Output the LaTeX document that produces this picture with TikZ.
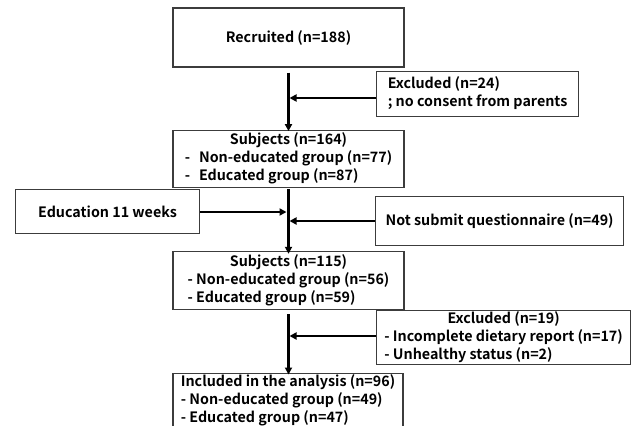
\documentclass[tikz,border=0pt]{standalone}
\usepackage{fontspec}
\setmainfont{Noto Sans CJK KR}[BoldFont={* Bold}]
\usepackage{xcolor}
\usetikzlibrary{arrows.meta, positioning, calc}
\definecolor{boxline}{RGB}{60, 60, 60}

\begin{document}
\begin{tikzpicture}[
						x=1pt, y=1pt,
						box/.style={draw=boxline, line width=1.2pt, minimum width=231pt, inner sep=0pt,
							font=\fontsize{14.3}{18}\selectfont\bfseries, align=center},
						sidebox/.style={box, minimum width=0pt},
						arrow/.style={-{Triangle[length=7pt, width=7pt]}, line width=2.2pt}
					]

					\useasboundingbox (0,0) rectangle (636,-425);

					% Main column
					\node[box, minimum height=59pt] (recruit) at (288.5,-37.5) {Recruited (n=188)};
					\node[box, minimum height=57pt, below=62pt of recruit] (subj1) {%
						\begin{tabular}{@{}l@{}}
							\multicolumn{1}{@{}c@{}}{Subjects (n=164)}\\
							-\hspace{9pt}Non-educated group (n=77)\\
							-\hspace{9pt}Educated group (n=87)
						\end{tabular}};
					\node[box, minimum height=58pt, below=63pt of subj1] (subj2) {%
						\begin{tabular}{@{}l@{}}
							\multicolumn{1}{@{}c@{}}{Subjects (n=115)}\\
							- Non-educated group (n=56)\\
							- Educated group (n=59)
						\end{tabular}};
					\node[box, minimum width=230pt, minimum height=54pt, below=63pt of subj2, xshift=-0.5pt] (final) {%
						\begin{tabular}{@{}l@{}}
							Included in the analysis (n=96)\\
							- Non-educated group (n=49)\\
							- Educated group (n=47)
						\end{tabular}};

					% Side boxes
					\node[sidebox, minimum width=202pt, minimum height=45pt, anchor=north west] (excl1) at (376,-71) {%
						\begin{tabular}{@{}l@{}}
							Excluded (n=24)\\
							; no consent from parents
						\end{tabular}};
					\node[sidebox, minimum width=184pt, minimum height=44pt, anchor=north west] (edu) at (15,-189) {Education 11 weeks};
					\node[sidebox, minimum width=248pt, minimum height=49pt, anchor=north west] (nosub) at (375,-196) {Not submit questionnaire (n=49)};
					\node[sidebox, minimum width=254pt, minimum height=53pt, anchor=north west] (excl2) at (376,-310) {%
						\begin{tabular}{@{}l@{}}
							\multicolumn{1}{@{}c@{}}{Excluded (n=19)}\\
							- Incomplete dietary report (n=17)\\
							- Unhealthy status (n=2)
						\end{tabular}};

					% Junctions on the main line
					\coordinate (j1) at (289.5,-98);
					\coordinate (j2) at (286.5,-212);
					\coordinate (j3) at (289.5,-221);
					\coordinate (j4) at (289.5,-336);

					% Arrows
					\draw[arrow] ([yshift=-5pt]recruit.south) -- ([yshift=-1.5pt]subj1.north);
					\draw[arrow] ([yshift=-1pt]subj1.south) -- ([yshift=-3pt]subj2.north);
					\draw[arrow] ([yshift=-4pt]subj2.south) -- ([xshift=0.5pt, yshift=-1.5pt]final.north);

					\draw[arrow] (excl1.west |- j1) -- (j1);
					\draw[arrow] (edu.east |- j2) -- (j2);
					\draw[arrow] (nosub.west |- j3) -- (j3);
					\draw[arrow] (excl2.west |- j4) -- (j4);
				\end{tikzpicture}
\end{document}
